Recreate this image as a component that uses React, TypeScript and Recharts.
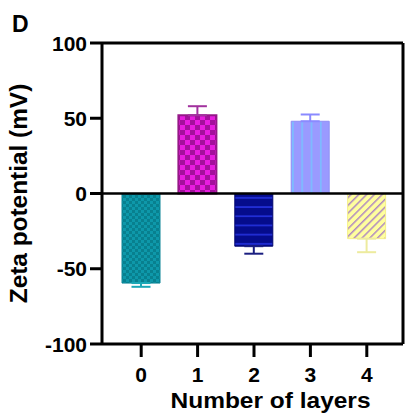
import { BarChart, Bar, XAxis, YAxis, ReferenceLine, ErrorBar, Cell } from "recharts";

const layers = ["0", "1", "2", "3", "4"];
const zeta = [-59.5, 52, -35, 48, -30];
const sd = [2.5, 6, 5, 4.5, 9];
const yTicks = [-100, -50, 0, 50, 100];

const fills = ["url(#p0)", "url(#p1)", "url(#p2)", "url(#p3)", "url(#p4)"];
const borders = ["#0A8496", "#951888", "#02066E", "#8F8FF5", "#F5F08A"];
const errColors = ["#1AA7B6", "#A2329E", "#1A1E80", "#8A8AFF", "#EDEB9E"];

// one error key per bar so each whisker can get its own colour; one-sided (outward)
const data = layers.map((layer, i) => {
  const row: Record<string, unknown> = { layer, zeta: zeta[i] };
  row[`e${i}`] = zeta[i] >= 0 ? [0, sd[i]] : [sd[i], 0];
  return row;
});

const font = "'Liberation Sans', Arial, sans-serif";
const pad = { left: 11, right: 8 };

function XTick({ x, y, payload }: any) {
  return (
    <text x={x} y={y + 15} textAnchor="middle" fontSize={21} fontWeight={700} fontFamily={font} fill="#000">
      {payload.value}
    </text>
  );
}

function YTick({ x, y, payload }: any) {
  return (
    <text x={x} y={y + 7.5} textAnchor="end" fontSize={21} fontWeight={700} fontFamily={font} fill="#000">
      {payload.value}
    </text>
  );
}

function Patterns() {
  return (
    <svg width={405} height={418} style={{ position: "absolute", left: 0, top: 0, pointerEvents: "none" }}>
      <defs>
        <pattern id="p0" patternUnits="userSpaceOnUse" width={6} height={6}>
          <rect width={6} height={6} fill="#0E98AA" />
          <rect width={3} height={3} fill="#08808F" />
          <rect x={3} y={3} width={3} height={3} fill="#08808F" />
        </pattern>
        <pattern id="p1" patternUnits="userSpaceOnUse" width={10} height={10}>
          <rect width={10} height={10} fill="#E81CE0" />
          <rect width={5} height={5} fill="#A4109C" />
          <rect x={5} y={5} width={5} height={5} fill="#A4109C" />
        </pattern>
        <pattern id="p2" patternUnits="userSpaceOnUse" width={10} height={9.2}>
          <rect width={10} height={9.2} fill="#050C8C" />
          <rect y={4} width={10} height={1.3} fill="#2A3AF0" />
        </pattern>
        <pattern id="p3" patternUnits="userSpaceOnUse" width={9.3} height={10}>
          <rect width={9.3} height={10} fill="#9A9AFF" />
          <rect x={4} width={1.2} height={10} fill="#6FCBFF" />
        </pattern>
        <pattern id="p4" patternUnits="userSpaceOnUse" width={5.5} height={5.5} patternTransform="rotate(45)">
          <rect width={5.5} height={5.5} fill="#FFFF9E" />
          <rect width={1.5} height={5.5} fill="#B08AC0" />
        </pattern>
      </defs>
      <text x={12} y={32} fontSize={23} fontWeight={700} fontFamily={font}>D</text>
    </svg>
  );
}

export default function App() {
  return (
    <div style={{ position: "absolute", left: 0, top: 0, width: 405, height: 418, background: "#fff" }}>
      <Patterns />
      <BarChart width={405} height={418} data={data} margin={{ top: 43, right: 2, bottom: 0, left: 0 }}>
        <XAxis
          dataKey="layer"
          height={74}
          padding={pad}
          tickLine={{ stroke: "#000", strokeWidth: 3 }}
          axisLine={{ stroke: "#000", strokeWidth: 3 }}
          tickSize={13}
          tickMargin={10}
          tick={<XTick />}
          label={{
            content: ({ viewBox }: any) => (
              <text
                x={viewBox.x + viewBox.width / 2 + 18}
                y={viewBox.y + viewBox.height - 10}
                textAnchor="middle"
                fontSize={22.5}
                fontWeight={700}
                fontFamily={font}
                textLength={200}
                lengthAdjust="spacingAndGlyphs"
              >
                Number of layers
              </text>
            ),
          }}
        />
        <XAxis
          xAxisId="top"
          dataKey="layer"
          orientation="top"
          mirror
          height={1}
          padding={pad}
          tick={false}
          tickSize={10}
          tickLine={{ stroke: "#000", strokeWidth: 3 }}
          axisLine={{ stroke: "#000", strokeWidth: 3 }}
        />
        <YAxis
          width={102}
          domain={[-100, 100]}
          ticks={yTicks}
          interval={0}
          tickSize={12}
          tickMargin={3}
          tick={<YTick />}
          tickLine={{ stroke: "#000", strokeWidth: 3 }}
          axisLine={{ stroke: "#000", strokeWidth: 3 }}
          label={{
            content: ({ viewBox }: any) => {
              const cy = viewBox.y + viewBox.height / 2;
              return (
                <text
                  x={27}
                  y={cy}
                  transform={`rotate(-90 27 ${cy})`}
                  textAnchor="middle"
                  fontSize={24.4}
                  fontWeight={700}
                  fontFamily={font}
                >
                  Zeta potential (mV)
                </text>
              );
            },
          }}
        />
        <YAxis
          yAxisId="right"
          orientation="right"
          mirror
          domain={[-100, 100]}
          ticks={yTicks}
          tick={false}
          tickSize={11}
          tickLine={{ stroke: "#000", strokeWidth: 3 }}
          axisLine={{ stroke: "#000", strokeWidth: 3 }}
        />
        <Bar dataKey="zeta" barSize={38} isAnimationActive={false}>
          {layers.map((l, i) => (
            <Cell key={l} fill={fills[i]} stroke={borders[i]} strokeWidth={i === 1 ? 2 : 1} />
          ))}
          {layers.map((l, i) => (
            <ErrorBar
              key={`e${l}`}
              dataKey={`e${i}`}
              width={9.5}
              stroke={errColors[i]}
              strokeWidth={2}
              isAnimationActive={false}
            />
          ))}
        </Bar>
        <ReferenceLine y={0} stroke="#000" strokeWidth={2.5} />
      </BarChart>
    </div>
  );
}
